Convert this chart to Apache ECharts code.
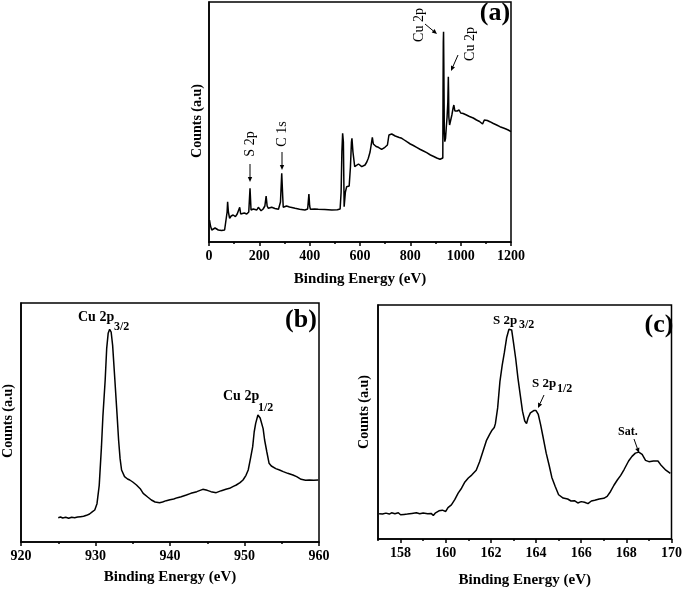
<!DOCTYPE html>
<html><head><meta charset="utf-8">
<script src="https://cdn.jsdelivr.net/npm/echarts@6/dist/echarts.min.js"></script>
<style>html,body{margin:0;padding:0;background:#fff}#c{width:685px;height:589px}</style>
</head><body><div id="c"></div>
<script>
// Panel (a): XPS survey spectrum [binding energy eV, counts (a.u.)]
const surveyData = [
[2,22],[6,16],[11,12],[18,12.5],[24,14],[30,12],[37,12],[50,11.5],[62,12],[68,14],[72,30],[74,40.3],[77,30],[82,23.7],[88,26],[96,27],[105,25.3],[112,28],[118,30],[122,34.7],[126,28],[130,27],[140,29],[150,28],[158,30],[163,53.7],[167,32],[170,30.3],[176,33],[183,33.7],[190,32],[196,34.7],[201,33],[207,31.3],[215,33],[222,36],[227,46],[231,36],[236,33.7],[243,35],[249,34.7],[262,33.5],[276,32.7],[284,40],[289,68.7],[293,45],[295,34.7],[302,35],[308,36],[320,35],[342,33.7],[360,32.8],[381,32],[392,33],[397,48],[400,36],[403,32.7],[420,33],[434,32.7],[460,32.5],[488,32],[510,32.3],[521,33],[525,50],[528,90],[531,108.7],[534,100],[537,35.3],[542,50],[547,55.3],[552,56],[557,56],[562,75],[566,100],[568,103.7],[572,90],[579,75.3],[586,77],[594,78],[600,77],[607,75.3],[614,76],[620,77],[627,80],[633,83.7],[640,90],[645,98],[649,104.7],[653,98],[656,96],[664,95.5],[673,94.7],[680,93.5],[686,92.7],[693,94],[699,94.7],[705,96],[709,97],[712,102],[715,107],[720,108.5],[726,108],[733,106.5],[740,106],[746,105.3],[756,104.5],[766,103.7],[776,102],[786,100.3],[800,98],[812,96.5],[825,94.7],[840,92.5],[852,91],[865,89.3],[880,87],[893,85.5],[905,84],[918,82.7],[925,82],[929,84],[930,150],[931,200],[932,210.3],[933,180],[935,110],[937,100.3],[940,104],[943,115],[946,125],[949,140],[951,165.3],[952,150],[953,125],[956,117],[960,119],[965,127],[970,134],[973,137],[977,131],[980,130],[986,131],[990,133],[994,132],[1000,129],[1010,128.5],[1023,127],[1035,125.5],[1050,124],[1063,122],[1075,120.5],[1087,118],[1090,118.5],[1094,122],[1096,122.7],[1106,121.5],[1116,120.3],[1130,118.5],[1143,117],[1156,115.3],[1170,114],[1180,113],[1189,112],[1200,110.3]
];
// Panel (b): Cu 2p high-resolution spectrum
const cuData = [
[925.0,73],[925.3,75],[925.6,72],[926.0,74],[926.4,71],[926.8,74],[927.2,73],[927.6,75],[928.0,76],[928.4,77],[928.8,80],[929.2,84],[929.6,91],[929.9,96],[930.2,115],[930.5,170],[930.8,286],[931.0,380],[931.3,486],[931.5,580],[931.7,626],[931.9,638],[932.1,630],[932.3,590],[932.6,486],[932.9,380],[933.1,306],[933.3,250],[933.5,216],[933.9,196],[934.3,189],[934.6,186],[935.0,180],[935.5,171],[936.0,160],[936.4,146],[937.0,135],[937.5,126],[938.0,120],[938.6,118],[939.0,120],[939.5,124],[940.0,127],[940.5,129],[941.0,133],[941.5,136],[942.2,141],[942.8,146],[943.6,151],[944.4,158],[945.0,155],[945.5,151],[946.2,148],[946.9,154],[947.5,158],[948.0,161],[948.5,167],[948.9,171],[949.4,178],[949.8,186],[950.2,200],[950.5,216],[950.8,250],[951.1,286],[951.3,330],[951.5,356],[951.8,381],[952.1,372],[952.3,366],[952.5,340],[952.7,306],[953.0,270],[953.3,236],[953.6,228],[953.8,226],[954.2,220],[954.7,216],[955.2,211],[955.8,206],[956.5,201],[957.0,196],[957.6,188],[958.2,185],[958.7,186],[959.3,185],[959.9,186]
];
// Panel (c): S 2p high-resolution spectrum
const sData = [
[157.05,77],[157.2,76],[157.35,79],[157.5,76],[157.6,80],[157.75,77],[157.9,80],[158.0,74],[158.15,75],[158.3,76],[158.5,78],[158.7,80],[158.85,77],[159.0,79],[159.2,77],[159.35,78],[159.45,72],[159.55,80],[159.7,86],[159.85,88],[160.0,84],[160.1,96],[160.25,104],[160.4,120],[160.55,140],[160.7,155],[160.85,174],[161.0,186],[161.15,195],[161.35,210],[161.5,236],[161.65,268],[161.8,300],[161.95,320],[162.05,332],[162.15,340],[162.2,352],[162.3,400],[162.4,480],[162.5,530],[162.6,570],[162.7,615],[162.8,640],[162.85,645],[162.92,638],[163.0,600],[163.1,550],[163.2,490],[163.3,440],[163.4,390],[163.5,360],[163.58,352],[163.65,370],[163.75,385],[163.9,392],[164.0,392],[164.1,380],[164.2,350],[164.3,315],[164.45,262],[164.58,225],[164.7,188],[164.85,160],[165.0,135],[165.2,125],[165.4,122],[165.55,116],[165.7,117],[165.85,110],[166.0,114],[166.15,112],[166.3,108],[166.45,116],[166.6,118],[166.8,122],[167.0,124],[167.15,130],[167.3,145],[167.45,164],[167.6,180],[167.75,194],[167.9,212],[168.1,238],[168.25,252],[168.4,262],[168.55,265],[168.7,258],[168.85,240],[169.0,236],[169.2,238],[169.4,238],[169.55,224],[169.75,210],[169.95,200]
];
const cTicksMajor = [158,160,162,164,166,168,170];
const cTicksMinor = [157,159,161,163,165,167,169];

const serif = '"Liberation Serif", "DejaVu Serif", serif';
const chart = echarts.init(document.getElementById('c'), null, {renderer:'canvas'});
const lblStyle = {color:'#000', fontFamily:serif, fontWeight:'bold', fontSize:14, margin:7,
  formatter: v => String(v)};
function xAx(grid, min, max, interval, extra){
  return Object.assign({
    gridIndex:grid, type:'value', min:min, max:max, interval:interval, position:'bottom',
    axisLine:{show:true, lineStyle:{color:'#000', width:1.5}},
    axisTick:{show:true, inside:false, length:4, lineStyle:{color:'#000', width:1.5}},
    minorTick:{show:true, splitNumber:2, length:2, lineStyle:{color:'#000', width:1.5}},
    axisLabel:lblStyle,
    splitLine:{show:false},
    name:'Binding Energy (eV)', nameLocation:'middle', nameGap:30,
    nameTextStyle:{color:'#000', fontFamily:serif, fontWeight:'bold', fontSize:15}
  }, extra||{});
}
function yAx(grid, max){
  return {gridIndex:grid, type:'value', min:0, max:max,
    axisLine:{show:true, lineStyle:{color:'#000', width:1.5}},
    axisTick:{show:false}, axisLabel:{show:false}, splitLine:{show:false}};
}
const gridStyle = {show:true, borderColor:'#000', borderWidth:1.5, containLabel:false};
const ser = (xi, yi, data) => ({type:'line', xAxisIndex:xi, yAxisIndex:yi, data:data,
  symbol:'none', lineStyle:{color:'#000', width:1.5}, animation:false, silent:true});

function rotText(x, y, txt, size, bold){
  return {type:'text', x:x, y:y, rotation:Math.PI/2,
    style:{text:txt, x:0, y:0, align:'center', verticalAlign:'middle', fill:'#000',
      font:(bold?'bold ':'')+size+'px '+serif}};
}
function txt(x, y, t, size, bold, align){
  return {type:'text', x:x, y:y, style:{text:t, x:0, y:0, align:align||'left', verticalAlign:'middle', fill:'#000',
    font:(bold?'bold ':'')+size+'px '+serif}};
}
function arrow(x1, y1, x2, y2){
  const a = Math.atan2(y2-y1, x2-x1), L = 5, W = 2.2;
  const bx = x2 - L*Math.cos(a), by = y2 - L*Math.sin(a);
  const px = -Math.sin(a)*W, py = Math.cos(a)*W;
  return [
    {type:'line', shape:{x1:x1, y1:y1, x2:bx, y2:by}, style:{stroke:'#000', lineWidth:1}},
    {type:'polygon', shape:{points:[[x2,y2],[bx+px,by+py],[bx-px,by-py]]}, style:{fill:'#000'}}
  ];
}

chart.setOption({
  animation:false,
  backgroundColor:'#fff',
  grid:[
    Object.assign({left:209, top:2, width:302, height:240}, gridStyle),
    Object.assign({left:21, top:303, width:298, height:239}, gridStyle),
    Object.assign({left:378, top:305, width:296, height:238}, gridStyle)
  ],
  xAxis:[
    xAx(0, 0, 1200, 200, {nameGap:30}),
    xAx(1, 920, 960, 10, {nameGap:28}),
    xAx(2, 157, 170, null, {nameGap:34,
      axisLabel:Object.assign({customValues:cTicksMajor}, lblStyle),
      axisTick:{show:true, inside:false, length:4, customValues:cTicksMajor, lineStyle:{color:'#000', width:1.5}},
      minorTick:{show:false}}),
    {gridIndex:2, type:'value', min:157, max:170, position:'bottom', offset:0,
      axisLine:{show:false, onZero:false}, axisLabel:{show:false},
      splitLine:{show:false},
      axisTick:{show:true, inside:false, length:2, customValues:cTicksMinor, lineStyle:{color:'#000', width:1.5}}}
  ],
  yAxis:[ yAx(0, 240), yAx(1, 717), yAx(2, 714) ],
  series:[ ser(0, 0, surveyData), ser(1, 1, cuData), ser(2, 2, sData) ],
  graphic:[].concat(
    [
      rotText(197, 121, 'Counts (a.u)', 14, true),
      rotText(8, 421, 'Counts (a.u)', 14, true),
      rotText(364, 412, 'Counts (a.u)', 14, true),
      txt(495, 13, '(a)', 26, true, 'center'),
      txt(301, 320, '(b)', 26, true, 'center'),
      txt(659, 325, '(c)', 26, true, 'center'),
      rotText(250, 144, 'S 2p', 14, false),
      rotText(282, 134, 'C 1s', 14, false),
      rotText(419, 25, 'Cu 2p', 14, false),
      rotText(470, 44, 'Cu 2p', 14, false),
      txt(78, 317, 'Cu 2p', 14, true),
      txt(114, 327, '3/2', 12, true),
      txt(223, 396, 'Cu 2p', 14, true),
      txt(258, 408, '1/2', 12, true),
      txt(493, 321, 'S 2p', 13, true),
      txt(519, 325, '3/2', 12, true),
      txt(532, 384, 'S 2p', 13, true),
      txt(557, 389, '1/2', 12, true),
      txt(618, 432, 'Sat.', 12, true)
    ],
    arrow(250, 164, 250, 182),
    arrow(282, 152, 282, 170),
    arrow(425, 24, 437, 34),
    arrow(458, 55, 451, 71),
    arrow(544, 395, 538, 408),
    arrow(634, 439, 639, 453)
  )
});
</script></body></html>
